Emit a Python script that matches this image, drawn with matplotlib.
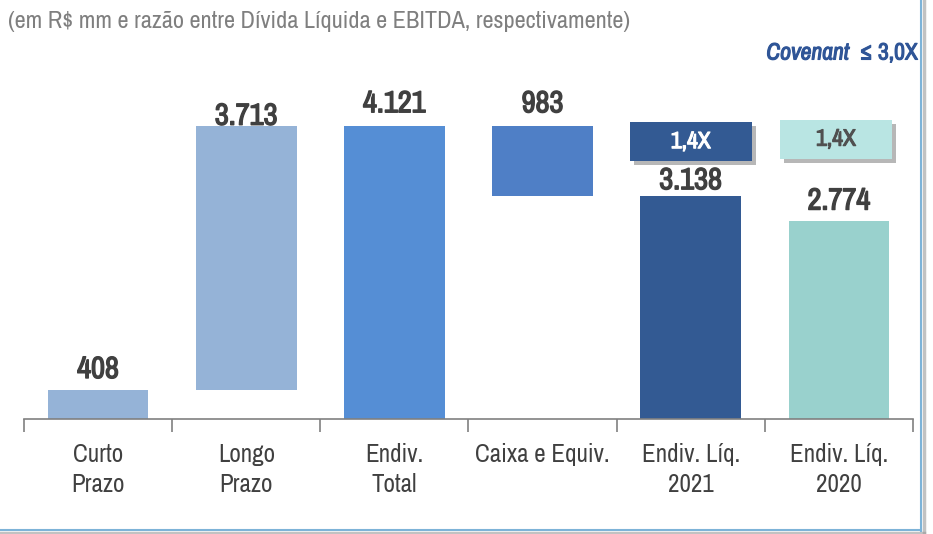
import matplotlib.pyplot as plt
import matplotlib.patheffects as pe
from matplotlib.lines import Line2D

plt.rcParams['font.family'] = ['Archivo Narrow', 'DejaVu Sans']

# data
categories = ['Curto\nPrazo', 'Longo\nPrazo', 'Endiv.\nTotal', 'Caixa e Equiv.',
              'Endiv. Líq.\n2021', 'Endiv. Líq.\n2020']
curto = 408
longo = 3713
total = 4121
caixa = 983
liq_2021 = 3138
liq_2020 = 2774
value_labels = ['408', '3.713', '4.121', '983', '3.138', '2.774']
leverage_labels = ['1,4X', '1,4X']

heights = [curto, longo, total, caixa, liq_2021, liq_2020]
bottoms = [0, curto, 0, total - caixa, 0, 0]
colors = ['#95B3D7', '#95B3D7', '#558ED5', '#4F7FC6', '#335A93', '#99D1CD']
label_offsets = [5, -3, 6, 6, 1, 5]


def fake_bold(color, w=1.0):
    # the narrow font has no bold face here, so thicken with a stroke
    return [pe.withStroke(linewidth=w, foreground=color)]


fig = plt.figure(figsize=(9.33, 5.34), dpi=100)
ax = fig.add_axes([24 / 933, 115 / 534, 889 / 933, 356 / 534])

x = range(len(categories))
ax.bar(x, heights, bottom=bottoms, width=0.68, color=colors, zorder=2)

for i in x:
    top = bottoms[i] + heights[i]
    ax.annotate(value_labels[i], (i, top), xytext=(0, label_offsets[i]),
                textcoords='offset points', ha='center', va='bottom',
                fontsize=22, color='#404040', path_effects=fake_bold('#404040', 1.0))

# leverage boxes
box_y = [3895, 3930]
box_face = ['#335A93', '#B9E5E3']
box_text = ['white', '#505050']
box_pad = ['      ', '     ']
for j, idx in enumerate([4, 5]):
    t = ax.text(idx - 0.02 * j, box_y[j], box_pad[j] + leverage_labels[j] + box_pad[j],
                ha='center', va='center',
                fontsize=17, color=box_text[j], path_effects=fake_bold(box_text[j], 0.8),
                bbox=dict(boxstyle='square,pad=0.38', fc=box_face[j], ec='none'))
    t.get_bbox_patch().set_path_effects(
        [pe.SimplePatchShadow(offset=(3, -3), shadow_rgbFace='#606060', alpha=0.45), pe.Normal()])

ax.set_xlim(-0.5, len(categories) - 0.5)
ax.set_ylim(0, 5000)
ax.set_yticks([])
ax.set_xticks(list(x))
ax.set_xticklabels(categories, fontsize=18, color='#404040', linespacing=1.38)
ax.tick_params(axis='x', length=0, pad=17)
ax.set_xticks([i - 0.5 for i in range(len(categories) + 1)], minor=True)
ax.tick_params(axis='x', which='minor', length=9, color='#808080', width=1.2)
for s in ['top', 'right', 'left']:
    ax.spines[s].set_visible(False)
ax.spines['bottom'].set_color('#808080')
ax.spines['bottom'].set_linewidth(1.2)

fig.text(8 / 933, 1 - 22 / 534, '(em R$ mm e razão entre Dívida Líquida e EBITDA, respectivamente)',
         fontsize=17.5, color='#7F7F7F', va='center', ha='left')
fig.text(918 / 933, 1 - 53 / 534, '≤ 3,0X', fontsize=17, color='#2F5597', va='center', ha='right',
         path_effects=fake_bold('#2F5597', 0.8))
fig.text(849 / 933, 1 - 53 / 534, 'Covenant', fontsize=17, style='italic',
         color='#2F5597', va='center', ha='right', path_effects=fake_bold('#2F5597', 0.8))

# frame lines on right and bottom
fig.add_artist(Line2D([924 / 933, 924 / 933], [0, 1], color='#9A9A9A', lw=2.5, alpha=0.6))
fig.add_artist(Line2D([0, 924 / 933], [1 / 534, 1 / 534], color='#9A9A9A', lw=2.5, alpha=0.6))
fig.add_artist(Line2D([921 / 933, 921 / 933], [3 / 534, 1], color='#7DB3D8', lw=1.5))
fig.add_artist(Line2D([0, 921 / 933], [4 / 534, 4 / 534], color='#7DB3D8', lw=1.5))

fig.savefig('out.png', dpi=100, facecolor='white')
